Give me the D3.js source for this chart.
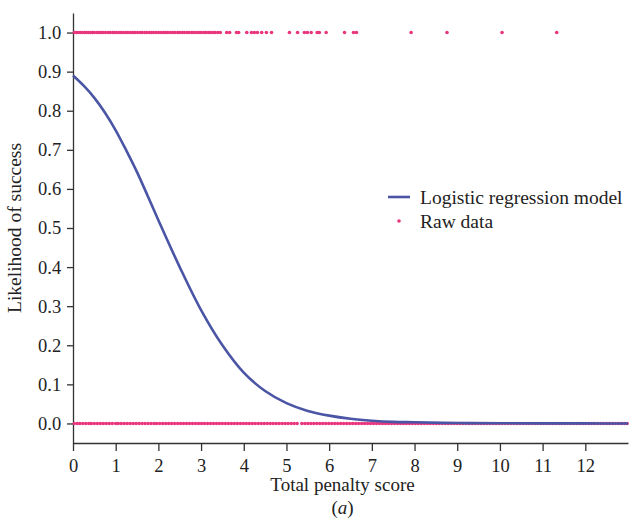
<!DOCTYPE html>
<html>
<head>
<meta charset="utf-8">
<script src="https://cdn.jsdelivr.net/npm/d3@7"></script>
<style>
  body { margin: 0; background: #fff; }
  svg text { font-family: "Liberation Serif", "DejaVu Serif", serif; fill: #222; }
</style>
</head>
<body>
<div id="chart"></div>
<script>
var W = 630, H = 528;
var margin = {left: 73, right: 2, top: 13, bottom: 85};

// x ticks and y ticks
var xTicks = [0,1,2,3,4,5,6,7,8,9,10,11,12];
var yTicks = [0,0.1,0.2,0.3,0.4,0.5,0.6,0.7,0.8,0.9,1.0];

// logistic regression model curve
var modelX = [0,0.25,0.5,0.75,1,1.25,1.5,1.75,2,2.5,3,3.5,4,4.5,5,5.5,6,6.5,7,7.5,8,9,10,11,12,13];
var modelY = [0.89,0.864,0.833,0.795,0.75,0.698,0.643,0.582,0.52,0.40,0.29,0.20,0.13,0.083,0.052,0.032,0.02,0.012,0.007,0.004,0.003,0.001,0.0005,0.0002,0.0001,0];

// raw data: successes (y = 1)
var rawSuccess = [0.03,0.08,0.12,0.17,0.22,0.27,0.31,0.36,0.41,0.46,0.50,0.56,0.61,0.66,0.70,0.76,0.82,0.87,0.93,0.97,
  1.02,1.08,1.13,1.18,1.24,1.29,1.35,1.40,1.45,1.51,1.57,1.62,1.68,1.73,1.79,1.84,1.89,1.95,
  2.01,2.06,2.12,2.17,2.22,2.28,2.34,2.39,2.45,2.50,2.56,2.61,2.67,2.72,2.78,2.83,2.89,2.95,
  3.00,3.06,3.11,3.17,3.22,3.28,3.33,3.39,3.45,
  3.60,3.67,3.83,3.88,4.07,4.18,4.25,4.32,4.42,4.53,4.65,
  5.07,5.26,5.42,5.49,5.58,5.72,5.77,5.93,6.36,6.57,6.64,7.92,8.76,10.05,11.33];

// raw data: failures (y = 0)
var rawFail = [0.03,0.10,0.16,0.23,0.30,0.37,0.43,0.50,0.57,0.64,0.71,0.78,0.85,0.92,
  1.00,1.06,1.13,1.20,1.27,1.34,1.41,1.48,1.55,1.62,1.69,1.76,1.83,1.90,1.96,
  2.03,2.10,2.17,2.24,2.31,2.38,2.45,2.52,2.59,2.66,2.73,2.80,2.87,2.94,
  3.01,3.08,3.15,3.22,3.29,3.36,3.43,3.50,3.57,3.64,3.71,3.78,3.85,3.92,3.99,
  4.06,4.13,4.20,4.27,4.34,4.41,4.48,4.55,4.62,4.69,4.76,4.83,4.90,4.97,
  5.04,5.11,5.18,5.25,5.36,5.43,5.50,5.57,5.64,5.71,5.78,5.85,5.92,5.99,
  6.06,6.13,6.20,6.27,6.34,6.41,6.48,6.55,6.62,6.69,6.76,6.83,6.90,6.97,
  7.04,7.11,7.18,7.25,7.32,7.39,7.46,7.53,7.60,7.67,7.74,7.81,7.88,7.95,
  8.02,8.09,8.16,8.23,8.30,8.37,8.44,8.51,8.58,8.65,8.72,8.79,8.86,8.93,
  9.00,9.07,9.14,9.21,9.28,9.35,9.42,9.49,9.56,9.63,9.70,9.77,9.84,9.91,9.98,
  10.05,10.12,10.19,10.26,10.33,10.40,10.47,10.54,10.61,10.68,10.75,10.82,10.89,10.96,
  11.03,11.10,11.17,11.24,11.31,11.38,11.45,11.52,11.59,11.66,11.73,11.80,11.87,11.94,
  12.01,12.08,12.15,12.22,12.29,12.36,12.43,12.50,12.57,12.64,12.71,12.78,12.85,12.92,12.98];

var lineColor = "#4b55a5", dotColor = "#e8357c";

var width = W - margin.left - margin.right,
    height = H - margin.top - margin.bottom;

var svg = d3.select("#chart").append("svg")
    .attr("width", W)
    .attr("height", H)
  .append("g")
    .attr("transform", "translate(" + margin.left + "," + margin.top + ")");

var x = d3.scaleLinear().domain([0, 13]).range([0, width]);
var y = d3.scaleLinear().domain([-0.05, 1.05]).range([height, 0]);

// x axis
var gx = svg.append("g")
    .attr("transform", "translate(0," + height + ")")
    .call(d3.axisBottom(x).tickValues(xTicks).tickFormat(d3.format("d")).tickSize(8).tickSizeOuter(0));
gx.selectAll("text").attr("dy", "0.95em");

// y axis
var gy = svg.append("g")
    .call(d3.axisLeft(y).tickValues(yTicks).tickFormat(d3.format(".1f")).tickSize(6).tickSizeOuter(0));
gy.selectAll("text").attr("dx", "-0.15em");

svg.selectAll(".domain, .tick line").attr("stroke", "#333").attr("stroke-width", 1.3);
svg.selectAll(".tick text").style("font-size", "18.5px").attr("fill", "#222");

// axis titles
svg.append("text")
    .attr("x", width / 2 - 8)
    .attr("y", height + 48)
    .attr("text-anchor", "middle")
    .style("font-size", "19px")
    .text("Total penalty score");

svg.append("text")
    .attr("x", width / 2 - 8)
    .attr("y", height + 71)
    .attr("text-anchor", "middle")
    .style("font-size", "19px")
    .html("(<tspan font-style='italic'>a</tspan>)");

svg.append("text")
    .attr("transform", "rotate(-90)")
    .attr("x", -(y(0.5)))
    .attr("y", -52)
    .attr("text-anchor", "middle")
    .style("font-size", "19.5px")
    .text("Likelihood of success");

// raw data points
svg.selectAll(".succ")
    .data(rawSuccess)
  .enter().append("circle")
    .attr("class", "succ")
    .attr("cx", function(d) { return x(d); })
    .attr("cy", y(1))
    .attr("r", 1.8)
    .attr("fill", dotColor);

svg.selectAll(".fail")
    .data(rawFail)
  .enter().append("circle")
    .attr("class", "fail")
    .attr("cx", function(d) { return x(d); })
    .attr("cy", y(0))
    .attr("r", 1.8)
    .attr("fill", dotColor);

// model curve
var line = d3.line()
    .x(function(d, i) { return x(modelX[i]); })
    .y(function(d) { return y(d); })
    .curve(d3.curveCatmullRom);

svg.append("path")
    .datum(modelY)
    .attr("d", line)
    .attr("fill", "none")
    .attr("stroke", lineColor)
    .attr("stroke-width", 2.6);

// legend
var lg = svg.append("g").attr("transform", "translate(" + (388 - margin.left) + "," + (197 - margin.top) + ")");
lg.append("line")
    .attr("x1", 0).attr("x2", 22).attr("y1", 0).attr("y2", 0)
    .attr("stroke", lineColor).attr("stroke-width", 2.6);
lg.append("text")
    .attr("x", 32).attr("y", 0).attr("dy", "0.35em")
    .style("font-size", "19.5px")
    .text("Logistic regression model");
lg.append("circle")
    .attr("cx", 11).attr("cy", 24).attr("r", 1.8)
    .attr("fill", dotColor);
lg.append("text")
    .attr("x", 32).attr("y", 24).attr("dy", "0.35em")
    .style("font-size", "19.5px")
    .text("Raw data");
</script>
</body>
</html>
